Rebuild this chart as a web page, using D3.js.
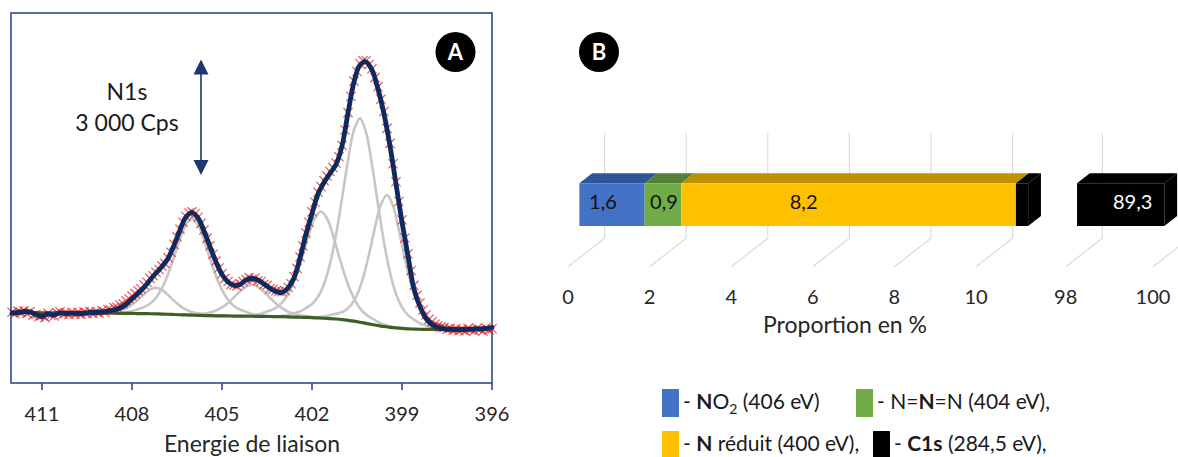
<!DOCTYPE html>
<html><head><meta charset="utf-8">
<script src="https://cdn.jsdelivr.net/npm/d3@7"></script>
<style>
body{margin:0;background:#fff}
svg{display:block}
text{font-family:Lato,'Open Sans',sans-serif}
</style>
</head><body>
<svg id="c" width="1178" height="457"></svg>
<script>
// ================= Panel A : XPS N1s spectrum =================
const envStartEV = 412, envStepEV = 0.2;          // grid of fit envelope / background
const dataStartEV = 412, dataStepEV = 0.1;        // grid of measured points
// fit envelope (Cps)
const envelope = [1820,1833,1859,1846,1781,1729,1794,1768,1825,1807,
  1812,1807,1812,1833,1833,1846,1872,1898,1950,2041,
  2184,2327,2483,2678,2860,3029,3237,3575,3978,4316,
  4428,4290,3952,3544,3146,2821,2626,2535,2561,2678,
  2717,2678,2574,2462,2379,2353,2470,2730,3250,3874,
  4407,4914,5213,5452,5681,6162,7020,7826,8268,8346,
  8138,7644,6994,6162,5174,4186,3302,2444,1984,1677,
  1521,1443,1409,1396,1391,1391,1396,1404,1409,1422,1443];
// background (Cps)
const background = [1833,1832,1831,1829,1828,1827,1826,1825,1823,1822,
  1821,1820,1819,1817,1816,1815,1814,1813,1811,1810,
  1808,1806,1804,1800,1796,1792,1787,1781,1775,1769,
  1764,1759,1754,1750,1747,1745,1743,1741,1739,1737,
  1735,1733,1731,1729,1727,1724,1720,1715,1709,1704,
  1698,1691,1684,1675,1664,1650,1630,1607,1580,1550,
  1521,1494,1468,1448,1431,1418,1409,1403,1398,1395,
  1392,1390,1389,1388,1387,1386,1386,1385,1385,1384,1384];
// measured counts (Cps)
const measured = [1840,1800,1870,1830,1880,1810,1860,1760,1790,1720,
  1750,1700,1810,1760,1740,1830,1850,1790,1820,1780,
  1840,1790,1830,1780,1850,1800,1860,1810,1850,1820,
  1880,1840,1910,1900,1960,1970,2030,2060,2140,2190,
  2260,2330,2400,2450,2550,2620,2720,2790,2880,2950,
  3040,3110,3260,3400,3600,3800,4000,4180,4330,4420,
  4450,4400,4310,4150,3980,3760,3570,3350,3170,2990,
  2840,2720,2640,2560,2550,2520,2580,2640,2690,2740,
  2700,2730,2660,2640,2560,2540,2450,2440,2390,2380,
  2370,2400,2490,2580,2760,2980,3280,3560,3900,4180,
  4450,4700,4960,5110,5260,5380,5500,5600,5720,5880,
  6180,6580,7030,7450,7850,8100,8300,8380,8380,8280,
  8170,7940,7700,7380,7060,6620,6230,5700,5230,4720,
  4240,3770,3360,2920,2540,2280,2080,1900,1770,1660,
  1590,1530,1490,1460,1440,1390,1420,1370,1410,1360,
  1400,1350,1420,1380,1360,1420,1390,1350,1430,1380,1410];
// fitted components (Cps, including background), 0.2 eV steps from their start energy
const compStartEV = [409.6, 408.4, 406.4, 404.1, 403.0, 401.9];
const comp1 = [1824,1827,1834,1838,1846,1861,1891,1947,2039,2164,2307,2428,2476,2420,2290,2139,2006,1906,1844,1807,1786,1773,1765,1755,1748];
const comp2 = [1826,1845,1868,1921,1972,2061,2215,2467,2824,3272,3743,4123,4274,4113,3722,3241,2784,2420,2162,2002,1907,1852,1795,1768,1746];
const comp3 = [1779,1779,1784,1797,1809,1835,1884,1966,2082,2228,2382,2506,2555,2502,2374,2216,2066,1945,1857,1800,1764,1742,1718,1701,1688];
const comp4 = [1751,1774,1802,1857,1914,2014,2185,2463,2856,3352,3873,4293,4458,4278,3842,3302,2784,2364,2057,1853,1722,1635,1551,1498,1455];
const comp5 = [1739,1770,1815,1859,1948,2053,2242,2569,3101,3853,4798,5785,6578,6880,6521,5676,4642,3657,2874,2316,1969,1764,1647,1548,1495,1442,1405];
const comp6 = [1705,1723,1750,1787,1818,1884,2024,2287,2728,3340,4046,4647,4888,4606,3963,3218,2569,2094,1802,1638,1552,1507,1459,1423,1397];
const energyTicksA = [411, 408, 405, 402, 399, 396];
const scaleBarCps = [5408, 8408];   // 3 000 Cps scale arrow
const scaleBarEV = 405.7;

// ================= Panel B : proportions =================
const categories = ["NO2", "N=N=N", "N réduit", "C1s"];
const proportions = [1.6, 0.9, 8.2, 89.3];
const valueLabels = ["1,6", "0,9", "8,2", "89,3"];
const ticksLow = [0, 2, 4, 6, 8, 10];
const ticksHigh = [98, 100];
const axisLowDomain = [0, 11];
const axisHighDomain = [98, 100];

// ---------- styles / layout ----------
const frontCol = ["#4472c4", "#70ad47", "#ffc000", "#000000"];
const topCol   = ["#2f5597", "#548235", "#bf9000", "#000000"];
const labelCol = ["#111", "#111", "#111", "#ffffff"];
const labelDx  = [-9, 1, -45, 12];

const svg = d3.select("#c");
const navy = "#2f4b8c";

// ---------- Panel A ----------
const xA = d3.scaleLinear().domain([412.033, 396]).range([11, 492]);
const yA = d3.scaleLinear().domain([0, 9620]).range([383, 13]);
const gA = svg.append("g");

const lineA = d3.line().x(d => xA(d.e)).y(d => yA(d.v)).curve(d3.curveCatmullRom.alpha(0.5));
const onGrid = (arr, start, step) => arr.map((v, i) => ({e: start - step * i, v}));

gA.append("rect").attr("x", 11).attr("y", 13).attr("width", 481).attr("height", 370)
  .attr("fill", "none").attr("stroke", navy).attr("stroke-width", 1.6);
gA.selectAll("line.tk").data(energyTicksA).join("line").attr("class", "tk")
  .attr("x1", d => xA(d)).attr("x2", d => xA(d)).attr("y1", 383).attr("y2", 390)
  .attr("stroke", navy).attr("stroke-width", 1.6);
gA.selectAll("text.tl").data(energyTicksA).join("text").attr("class", "tl")
  .attr("x", d => xA(d)).attr("y", 421).attr("text-anchor", "middle")
  .attr("font-size", 20).attr("fill", "#262626").text(d => d);
gA.append("text").attr("x", 252).attr("y", 452).attr("text-anchor", "middle")
  .attr("font-size", 23).attr("fill", "#262626").text("Energie de liaison");

[comp1, comp2, comp3, comp4, comp5, comp6].forEach((c, k) => {
  gA.append("path").datum(onGrid(c, compStartEV[k], envStepEV)).attr("d", lineA)
    .attr("fill", "none").attr("stroke", "#c6c6c6").attr("stroke-width", 2.6);
});
gA.append("path").datum(onGrid(background, envStartEV, envStepEV)).attr("d", lineA)
  .attr("fill", "none").attr("stroke", "#3d5f25").attr("stroke-width", 3.2);

const cross = "M-4.6,-4.6L4.6,4.6M-4.6,4.6L4.6,-4.6";
gA.selectAll("path.pt").data(onGrid(measured, dataStartEV, dataStepEV)).join("path").attr("class", "pt")
  .attr("transform", d => `translate(${xA(d.e)},${yA(d.v)})`).attr("d", cross)
  .attr("stroke", "#e01010").attr("stroke-width", 1.2).attr("opacity", 0.7).attr("fill", "none");

gA.append("path").datum(onGrid(envelope, envStartEV, envStepEV)).attr("d", lineA)
  .attr("fill", "none").attr("stroke", "#0e2a5e").attr("stroke-width", 4.8)
  .attr("stroke-linejoin", "round").attr("stroke-linecap", "round");

// scale arrow
const ax = xA(scaleBarEV), ayTop = yA(scaleBarCps[1]), ayBot = yA(scaleBarCps[0]);
const arrowCol = "#1f3470";
gA.append("line").attr("x1", ax).attr("x2", ax).attr("y1", ayTop + 10).attr("y2", ayBot - 10)
  .attr("stroke", arrowCol).attr("stroke-width", 1.6);
gA.append("path").attr("d", `M${ax},${ayTop}L${ax - 7.5},${ayTop + 15}L${ax + 7.5},${ayTop + 15}Z`).attr("fill", arrowCol);
gA.append("path").attr("d", `M${ax},${ayBot}L${ax - 7.5},${ayBot - 15}L${ax + 7.5},${ayBot - 15}Z`).attr("fill", arrowCol);
gA.append("text").attr("x", 127).attr("y", 100).attr("text-anchor", "middle").attr("font-size", 23).attr("fill", "#1a1a1a").text("N1s");
gA.append("text").attr("x", 127).attr("y", 131).attr("text-anchor", "middle").attr("font-size", 23).attr("fill", "#1a1a1a").text("3 000 Cps");

function badge(cx, cy, letter) {
  svg.append("circle").attr("cx", cx).attr("cy", cy).attr("r", 20).attr("fill", "#000");
  svg.append("text").attr("x", cx).attr("y", cy + 8).attr("text-anchor", "middle")
    .attr("font-size", 22).attr("font-weight", "bold").attr("fill", "#fff").text(letter);
}
badge(455.5, 52, "A");
badge(599, 52, "B");

// ---------- Panel B ----------
const gB = svg.append("g");
const xLow = d3.scaleLinear().domain(axisLowDomain).range([568, 568 + 11 * 40.8]);
const xHigh = d3.scaleLinear().domain(axisHighDomain).range([1065.7, 1153]);
const DX = 36.6, DY = 28.4;            // full depth of the 3-D floor
const wallTop = 132.7, floorBack = 238.3;
const f1 = 0.31, f2 = 0.66;            // bar front / back depth
const barTop0 = 192.1, barBot0 = 234.8;
const P = (x, y, f) => [x + f * DX, y - f * DY];

function grid(scale, ticks) {
  ticks.forEach(t => {
    const xf = scale(t);
    gB.append("line").attr("x1", xf + DX).attr("x2", xf + DX).attr("y1", wallTop).attr("y2", floorBack)
      .attr("stroke", "#d9d9d9").attr("stroke-width", 1.1);
    gB.append("line").attr("x1", xf + DX).attr("x2", xf).attr("y1", floorBack).attr("y2", floorBack + DY)
      .attr("stroke", "#d9d9d9").attr("stroke-width", 1.1);
    gB.append("text").attr("x", xf).attr("y", 304).attr("text-anchor", "middle")
      .attr("font-size", 20).attr("fill", "#262626").text(t);
  });
}
grid(xLow, ticksLow);
grid(xHigh, ticksHigh);

const poly = pts => "M" + pts.map(p => p.join(",")).join("L") + "Z";
function box(scale, a, b, k, withEnd) {
  const x0 = scale(a), x1 = scale(b);
  gB.append("path").attr("d", poly([P(x0, barTop0, f1), P(x1, barTop0, f1), P(x1, barTop0, f2), P(x0, barTop0, f2)]))
    .attr("fill", topCol[k]);
  gB.append("path").attr("d", poly([P(x0, barTop0, f1), P(x1, barTop0, f1), P(x1, barBot0, f1), P(x0, barBot0, f1)]))
    .attr("fill", frontCol[k]);
  if (withEnd) {
    gB.append("path").attr("d", poly([P(x1, barTop0, f1), P(x1, barTop0, f2), P(x1, barBot0, f2), P(x1, barBot0, f1)]))
      .attr("fill", topCol[k]);
  }
}
const starts = proportions.map((v, i) => d3.sum(proportions.slice(0, i)));
const ends = proportions.map((v, i) => starts[i] + v);
const labelPos = [];
proportions.forEach((v, k) => {
  const a = starts[k], b = ends[k];
  if (b <= axisLowDomain[1]) {
    box(xLow, a, b, k, false);
    labelPos.push((xLow(a) + xLow(b)) / 2 + f1 * DX);
  } else {
    box(xLow, a, axisLowDomain[1], k, true);
    box(xHigh, axisHighDomain[0], Math.min(b, axisHighDomain[1]), k, true);
    labelPos.push((xHigh(axisHighDomain[0]) + xHigh(Math.min(b, axisHighDomain[1]))) / 2 + f1 * DX);
  }
});
valueLabels.forEach((t, k) => {
  gB.append("text").attr("x", labelPos[k] + labelDx[k]).attr("y", 209).attr("text-anchor", "middle")
    .attr("font-size", 20).attr("fill", labelCol[k]).text(t);
});
gB.append("text").attr("x", 845).attr("y", 333).attr("text-anchor", "middle")
  .attr("font-size", 23).attr("fill", "#262626").text("Proportion en %");

// legend
const legend = [
  {k: 0, x: 662, y: 389, parts: [["- ", 0], ["N", 1], ["O", 0], ["2", 2], [" (406 eV)", 0]]},
  {k: 1, x: 856, y: 389, parts: [["- N=", 0], ["N", 1], ["=N (404 eV),", 0]]},
  {k: 2, x: 662, y: 431, parts: [["- ", 0], ["N", 1], [" réduit (400 eV),", 0]]},
  {k: 3, x: 873, y: 431, parts: [["- ", 0], ["C1s", 1], [" (284,5 eV),", 0]]}
];
legend.forEach(L => {
  gB.append("rect").attr("x", L.x).attr("y", L.y).attr("width", 17).attr("height", 28).attr("fill", frontCol[L.k]);
  const t = gB.append("text").attr("x", L.x + 21).attr("y", L.y + 20).attr("font-size", 21).attr("fill", "#1a1a1a");
  let sub = false;
  L.parts.forEach(([s, st]) => {
    const ts = t.append("tspan").text(s);
    if (st === 1) ts.attr("font-weight", "bold");
    if (st === 2) { ts.attr("font-size", 14).attr("dy", 5); sub = true; }
    else if (sub) { ts.attr("dy", -5); sub = false; }
  });
});
</script>
</body></html>
